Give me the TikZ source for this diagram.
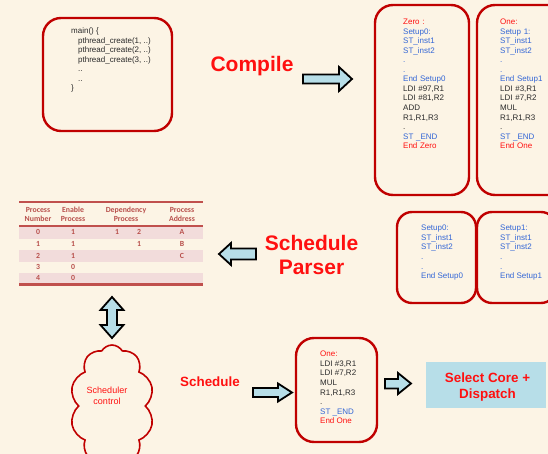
\documentclass[tikz,border=0pt]{standalone}
\usepackage{fontspec}
\setmainfont{Liberation Sans}
\newfontfamily\calib{Carlito}
\usetikzlibrary{shapes.symbols}
\definecolor{bg}{HTML}{FCF4E5}
\definecolor{boxred}{HTML}{C00000}
\definecolor{txtred}{HTML}{FF1010}
\definecolor{txtblue}{HTML}{3366D6}
\definecolor{txtgray}{HTML}{2A2A2A}
\definecolor{arrowfill}{HTML}{B7DEE8}
\definecolor{tabred}{HTML}{C0504D}
\definecolor{tabtxt}{HTML}{B8504C}
\definecolor{tabpink}{HTML}{F2DCDB}
\tikzset{
  rbox/.style={draw=boxred, line width=2.4pt, rounded corners=18pt, inner sep=0pt},
  codetext/.style={anchor=north west, inner sep=0pt, align=left, text=txtgray,
    font=\fontsize{8}{9.55}\selectfont},
  bigred/.style={text=txtred, font=\fontsize{21}{25}\selectfont\bfseries, align=center, inner sep=0pt},
  midred/.style={text=txtred, font=\fontsize{13.4}{16}\selectfont\bfseries, align=center, inner sep=0pt},
  blockarrow/.style={draw=black, line width=1.8pt, fill=arrowfill, line join=miter},
  tabhead/.style={text=tabtxt, font=\calib\fontsize{7.8}{9.2}\selectfont\bfseries, align=center, inner sep=0pt},
  tabval/.style={text=tabtxt, font=\calib\fontsize{7.8}{9}\selectfont\bfseries, inner sep=0pt},
}
\newcommand{\tred}[1]{\textcolor{txtred}{#1}}
\newcommand{\tblu}[1]{\textcolor{txtblue}{#1}}
\begin{document}
\begin{tikzpicture}[x=1pt,y=-1pt]
\useasboundingbox (0,0) rectangle (548,454);
\fill[bg] (0,0) rectangle (548,454);
\clip (0,0) rectangle (548,454);

% main box
\node[rbox, minimum width=129pt, minimum height=113pt] (mainbox) at (107.5,74.5) {};
\node[codetext] (maintext) at (71,27.6) {main() \{\\
\hspace*{7pt}pthread\_create(1, ..)\\
\hspace*{7pt}pthread\_create(2, ..)\\
\hspace*{7pt}pthread\_create(3, ..)\\
\hspace*{7pt}..\\
\hspace*{7pt}..\\
\}};

% Compile
\node[bigred] (compile) at (252,66) {Compile};
\draw[blockarrow] (303,74.5) -- (339,74.5) -- (339,67) -- (352,79) -- (339,91) -- (339,83.5) -- (303,83.5) -- cycle;

% Zero / One boxes
\node[rbox, minimum width=94pt, minimum height=190pt] (zerobox) at (422,100) {};
\node[rbox, minimum width=94pt, minimum height=190pt] (onebox) at (524,100) {};
\node[codetext, text width=80pt] (zerotext) at (403,18.8) {\tred{Zero :}\\
\tblu{Setup0:}\\ \tblu{ST\_inst1}\\ \tblu{ST\_inst2}\\ \tblu{.}\\ \tblu{.}\\ \tblu{End Setup0}\\
LDI \#97,R1\\ LDI \#81,R2\\ ADD\\ R1,R1,R3\\ .\\ \tblu{ST \_END}\\ \tred{End Zero}};
\node[codetext, text width=80pt] (onetext) at (500,18.8) {\tred{One:}\\
\tblu{Setup 1:}\\ \tblu{ST\_inst1}\\ \tblu{ST\_inst2}\\ \tblu{.}\\ \tblu{.}\\ \tblu{End Setup1}\\
LDI \#3,R1\\ LDI \#7,R2\\ MUL\\ R1,R1,R3\\ .\\ \tblu{ST \_END}\\ \tred{End One}};

% Table
\fill[tabpink] (19,226) rectangle (203,238.5);
\fill[tabpink] (19,250) rectangle (203,262);
\fill[tabpink] (19,273) rectangle (203,284);
\draw[tabred, line width=2pt] (19,202) -- (203,202);
\draw[tabred, line width=2pt] (19,226) -- (203,226);
\draw[tabred, line width=2.5pt] (19,284.5) -- (203,284.5);
\node[tabhead] (h1) at (38,214.5) {Process\\Number};
\node[tabhead] (h2) at (73,214.5) {Enable\\Process};
\node[tabhead] (h3) at (126,214.5) {Dependency\\Process};
\node[tabhead] (h4) at (182,214.5) {Process\\Address};
\node[tabval] (r0a) at (38,232) {0};
\node[tabval] (r0b) at (73,232) {1};
\node[tabval] (r0c) at (117,232) {1};
\node[tabval] (r0d) at (139,232) {2};
\node[tabval] (r0e) at (182,232) {A};
\node[tabval] (r1a) at (38,243.5) {1};
\node[tabval] (r1b) at (73,243.5) {1};
\node[tabval] (r1d) at (139,243.5) {1};
\node[tabval] (r1e) at (182,243.5) {B};
\node[tabval] (r2a) at (38,256) {2};
\node[tabval] (r2b) at (73,256) {1};
\node[tabval] (r2e) at (182,256) {C};
\node[tabval] (r3a) at (38,266.5) {3};
\node[tabval] (r3b) at (73,266.5) {0};
\node[tabval] (r4a) at (38,278) {4};
\node[tabval] (r4b) at (73,278) {0};

% Schedule Parser
\node[bigred] (parser) at (311.5,254.5) {Schedule\\[-1pt]Parser};
\draw[blockarrow] (256,248.5) -- (231,248.5) -- (231,243) -- (219,254) -- (231,265) -- (231,259.5) -- (256,259.5) -- cycle;

% Setup boxes
\node[rbox, rounded corners=15pt, minimum width=79pt, minimum height=91pt] (s0box) at (436.5,257.5) {};
\node[rbox, rounded corners=15pt, minimum width=79pt, minimum height=91pt] (s1box) at (516.5,257.5) {};
\node[codetext, text=txtblue] (s0text) at (421,225.1) {Setup0:\\ ST\_inst1\\ ST\_inst2\\ .\\ .\\ End Setup0};
\node[codetext, text=txtblue] (s1text) at (500,225.1) {Setup1:\\ ST\_inst1\\ ST\_inst2\\ .\\ .\\ End Setup1};

% double arrow
\draw[blockarrow] (112,297) -- (123.5,310) -- (117,310) -- (117,325) -- (123.5,325) -- (112,338)
  -- (100.5,325) -- (107,325) -- (107,310) -- (100.5,310) -- cycle;

% cloud
\node[cloud, cloud puffs=10, cloud puff arc=120, aspect=0.7, draw=boxred, line width=1.6pt,
  minimum width=84pt, minimum height=122pt, inner sep=0pt] (cloud) at (112,406) {};
\node[text=txtred, font=\fontsize{9}{11}\selectfont, align=center, inner sep=0pt] (cloudtext) at (107,395.5) {Scheduler\\control};

% Schedule
\node[midred] (schedule) at (210,382) {Schedule};
\draw[blockarrow] (253,388) -- (278,388) -- (278,383.5) -- (292,392.5) -- (278,401.5) -- (278,397) -- (253,397) -- cycle;

% bottom One box
\node[rbox, minimum width=81pt, minimum height=104pt] (botbox) at (336.5,390) {};
\node[codetext] (bottext) at (320,351.1) {\tred{One:}\\ LDI \#3,R1\\ LDI \#7,R2\\ MUL\\ R1,R1,R3\\ .\\ \tblu{ST \_END}\\ \tred{End One}};

\draw[blockarrow] (385,379) -- (398,379) -- (398,373) -- (411,383.5) -- (398,394) -- (398,388.5) -- (385,388.5) -- cycle;

% Select Core box
\node[fill=arrowfill, minimum width=120pt, minimum height=46pt, inner sep=0pt] (selbox) at (486,385) {};
\node[midred] (seltext) at (487.5,387) {Select Core +\\Dispatch};
\end{tikzpicture}
\end{document}
